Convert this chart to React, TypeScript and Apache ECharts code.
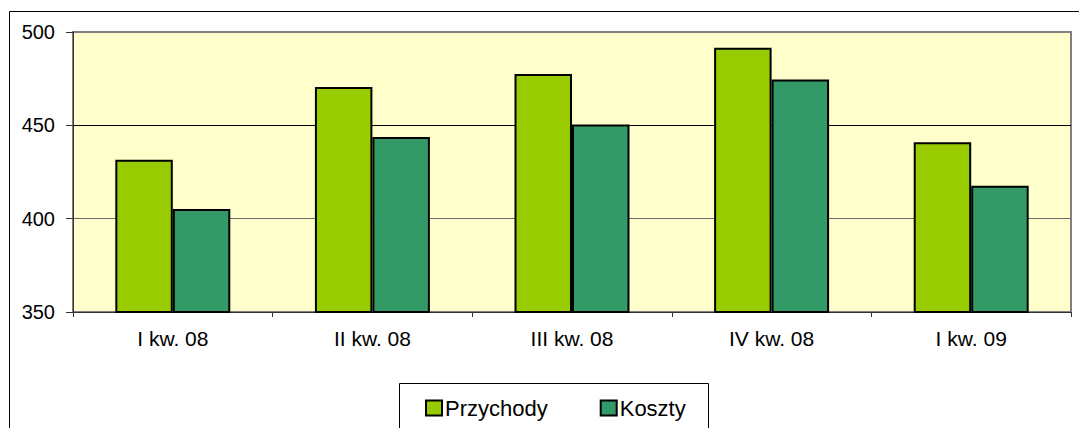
import React, { useEffect, useRef } from "react";
import * as echarts from "echarts";

const categories = ["I kw. 08", "II kw. 08", "III kw. 08", "IV kw. 08", "I kw. 09"];
const przychody = [431.5, 470.5, 477.5, 491.5, 441];
const koszty = [405.2, 443.7, 450.5, 474.5, 417.7];
const seriesNames = ["Przychody", "Koszty"];

const FONT = "'Liberation Sans', Arial, sans-serif";

export default function App() {
  const ref = useRef<HTMLDivElement>(null);
  useEffect(() => {
    if (!ref.current) return;
    const chart = echarts.init(ref.current, undefined, { renderer: "svg" });
    chart.setOption({
      animation: false,
      backgroundColor: "#ffffff",
      textStyle: { fontFamily: FONT },
      grid: {
        left: 73,
        right: 8,
        top: 32,
        bottom: 116,
        show: true,
        backgroundColor: "#FFFFCC",
        borderColor: "#808080",
        borderWidth: 2,
      },
      graphic: [
        {
          type: "rect",
          shape: { x: 9.5, y: 11.5, width: 1200, height: 600 },
          style: { fill: "none", stroke: "#000", lineWidth: 1 },
          z: 100,
        },
        {
          type: "rect",
          shape: { x: 399.5, y: 383.5, width: 309, height: 100 },
          style: { fill: "none", stroke: "#000", lineWidth: 1 },
          z: 100,
        },
      ],
      legend: {
        left: 420,
        top: 392,
        itemWidth: 16,
        itemHeight: 15,
        itemGap: 52,
        icon: "rect",
        textStyle: { fontSize: 22, color: "#000", fontFamily: FONT, padding: [0, 0, 0, -2] },
        data: seriesNames,
      },
      xAxis: {
        type: "category",
        data: categories,
        axisLine: { lineStyle: { color: "#333", width: 1 } },
        axisTick: { show: true, length: 5, lineStyle: { color: "#333" } },
        axisLabel: { color: "#000", fontSize: 21, margin: 16, fontFamily: FONT },
      },
      yAxis: {
        type: "value",
        min: 350,
        max: 500,
        interval: 50,
        axisLine: { show: true, lineStyle: { color: "#333", width: 1 } },
        axisTick: { show: true, length: 7, lineStyle: { color: "#333" } },
        axisLabel: { color: "#000", fontSize: 20, margin: 18, fontFamily: FONT },
        splitLine: {
          show: true,
          lineStyle: { color: ["#808080", "#6a6a6a", "#000000", "#808080"], width: 1 },
        },
      },
      series: [
        {
          name: seriesNames[0],
          type: "bar",
          data: przychody,
          barGap: "0%",
          barCategoryGap: "42.4%",
          itemStyle: { color: "#99CC00", borderColor: "#000", borderWidth: 2 },
        },
        {
          name: seriesNames[1],
          type: "bar",
          data: koszty,
          itemStyle: { color: "#339966", borderColor: "#000", borderWidth: 2 },
        },
      ],
    });
    return () => chart.dispose();
  }, []);
  return (
    <div
      ref={ref}
      style={{ position: "absolute", left: 0, top: 0, width: 1079, height: 428 }}
    />
  );
}
